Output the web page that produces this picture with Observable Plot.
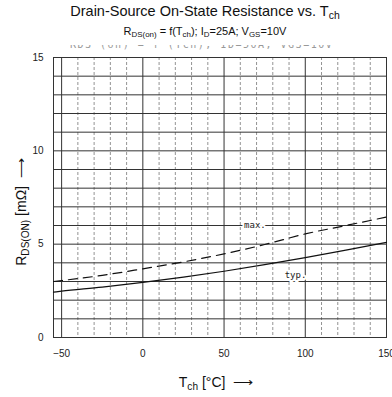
<!DOCTYPE html>
<html><head><meta charset="utf-8">
<script src="https://cdn.jsdelivr.net/npm/d3@7"></script>
<script src="https://cdn.jsdelivr.net/npm/@observablehq/plot@0.6"></script>
<style>
body{margin:0;background:#fff;font-family:Arial,"Liberation Sans",sans-serif;}
#wrap{position:relative;width:392px;height:397px;overflow:hidden;}
.abs{position:absolute;white-space:nowrap;}
sub{font-size:0.72em;vertical-align:-0.25em;line-height:0;}
</style></head>
<body><div id="wrap">
<div class="abs" style="left:0;width:410px;top:3px;text-align:center;font-size:14.5px;color:#111;">Drain-Source On-State Resistance vs. T<sub>ch</sub></div>
<div class="abs" style="left:0;width:410px;top:25px;text-align:center;font-size:11px;color:#111;">R<sub>DS(on)</sub> = f(T<sub>ch</sub>); I<sub>D</sub>=25A; V<sub>GS</sub>=10V</div>
<div class="abs" style="left:70px;top:45px;height:5px;overflow:hidden;"><div style="margin-top:-6px;font-size:10px;color:#999;letter-spacing:1.5px;font-family:'DejaVu Sans Mono',monospace;">RDS (on) = f (Tch); ID=50A; VGS=10V</div></div>
<div id="chart" class="abs" style="left:0;top:50px;"></div>
<div class="abs" style="left:21px;top:212px;transform:translate(-50%,-50%) rotate(-90deg);font-size:14px;color:#111;">R<sub>DS(ON)</sub> [mΩ] &nbsp;⟶</div>
<div class="abs" style="left:216px;top:382px;transform:translate(-50%,-50%);font-size:14px;color:#111;">T<sub>ch</sub> [°C] &nbsp;⟶</div>
</div>
<script>
const tch = [-55, -50, -25, 0, 25, 50, 75, 100, 125, 150];
const typ = [2.43, 2.48, 2.7, 2.95, 3.23, 3.55, 3.9, 4.28, 4.68, 5.1];
const maxv = [3.0, 3.05, 3.33, 3.68, 4.05, 4.48, 4.98, 5.55, 6.0, 6.45];
const xTicks = [-50, 0, 50, 100, 150];
const yTicks = [0, 5, 10, 15];
const xMajor = [-50, 0, 50, 100];
const xMinor = d3.range(-50, 151, 10).filter(v => v % 50 !== 0);
const yGrid = d3.range(1, 15, 1);
const labels = [{t: 69, r: 6.0, s: "max."}, {t: 94, r: 3.32, s: "typ."}];

const typData = tch.map((t, i) => ({t, r: typ[i]}));
const maxData = tch.map((t, i) => ({t, r: maxv[i]}));

const chart = Plot.plot({
  width: 392, height: 347,
  marginTop: 7, marginBottom: 60, marginLeft: 53, marginRight: 6,
  style: {fontFamily: "Arial, 'Liberation Sans', sans-serif", fontSize: "10px", color: "#222", background: "transparent"},
  x: {domain: [-55, 150], ticks: xTicks, tickFormat: d => d < 0 ? "\u2212" + Math.abs(d) : String(d), label: null, tickSize: 0, tickPadding: 12},
  y: {domain: [0, 15], ticks: yTicks, label: null, tickSize: 0, tickPadding: 10},
  marks: [
    Plot.ruleX(xMinor, {stroke: "#777", strokeWidth: 0.8, strokeDasharray: "3,2"}),
    Plot.ruleY(yGrid, {stroke: "#333", strokeWidth: 1}),
    Plot.ruleX(xMajor, {stroke: "#333", strokeWidth: 1}),
    Plot.frame({stroke: "#333", strokeWidth: 1}),
    Plot.line(maxData, {x: "t", y: "r", stroke: "#111", strokeWidth: 1.2, strokeDasharray: "9,6", curve: "monotone-x"}),
    Plot.line(typData, {x: "t", y: "r", stroke: "#111", strokeWidth: 1.2, curve: "monotone-x"}),
    Plot.text(labels, {x: "t", y: "r", text: "s", fontFamily: "'DejaVu Sans Mono', monospace", fontSize: 9, fill: "#222", stroke: "#fff", strokeWidth: 4, paintOrder: "stroke"})
  ]
});
document.getElementById("chart").appendChild(chart);
</script>
</body></html>
